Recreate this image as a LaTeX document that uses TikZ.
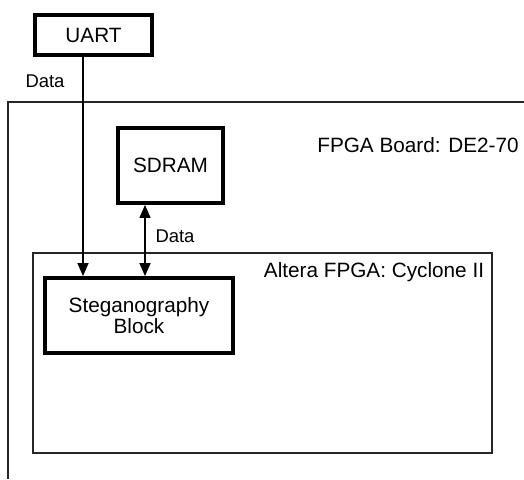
\documentclass[tikz,border=0pt]{standalone}
\usepackage{fontspec}
\setmainfont{Liberation Sans}
\usepackage{tikz}
\usetikzlibrary{arrows.meta,positioning}

\begin{document}
\begin{tikzpicture}[
    font=\fontsize{11.8}{11.5}\selectfont,
    block/.style={draw, line width=2.2pt, align=center, inner sep=0pt},
    frame/.style={draw=black!85, line width=0.8pt},
    arrow/.style={-{Triangle[length=0.26cm,width=0.22cm]}, line width=0.8pt},
    biarrow/.style={{Triangle[length=0.26cm,width=0.22cm]}-{Triangle[length=0.26cm,width=0.22cm]}, line width=0.8pt},
    lbl/.style={font=\fontsize{10.5}{12}\selectfont}
]
    \useasboundingbox (0, 0) rectangle (10.48, -9.58);

    % board and FPGA frames
    \draw[frame] (10.48, -2.04) -- (0.16, -2.04) -- (0.16, -9.58);
    \draw[frame] (0.66, -5.06) rectangle (9.84, -9.06);
    \node (board_title) at (8.36, -2.9) {FPGA Board: DE2-70};
    \node (fpga_title) at (7.48, -5.44) {Altera FPGA: Cyclone II};

    \node[block, minimum width=2.34cm, minimum height=0.8cm] (uart) at (1.87, -0.7) {UART};
    \node[block, minimum width=2.1cm, minimum height=1.5cm] (sdram) at (3.41, -3.31) {SDRAM};
    \node[block, minimum width=3.76cm, minimum height=1.5cm] (stego) at (2.78, -6.31) {Steganography\\Block};

    \draw[arrow] ([xshift=-0.21cm]uart.south) -- ([xshift=-0.21cm]uart.south |- stego.north);
    \node[lbl] (uart_data) at (0.9, -1.62) {Data};
    \draw[biarrow] ([xshift=-0.51cm]sdram.south) -- ([xshift=-0.51cm]sdram.south |- stego.north);
    \node[lbl] (sdram_data) at (3.5, -4.72) {Data};
\end{tikzpicture}
\end{document}
